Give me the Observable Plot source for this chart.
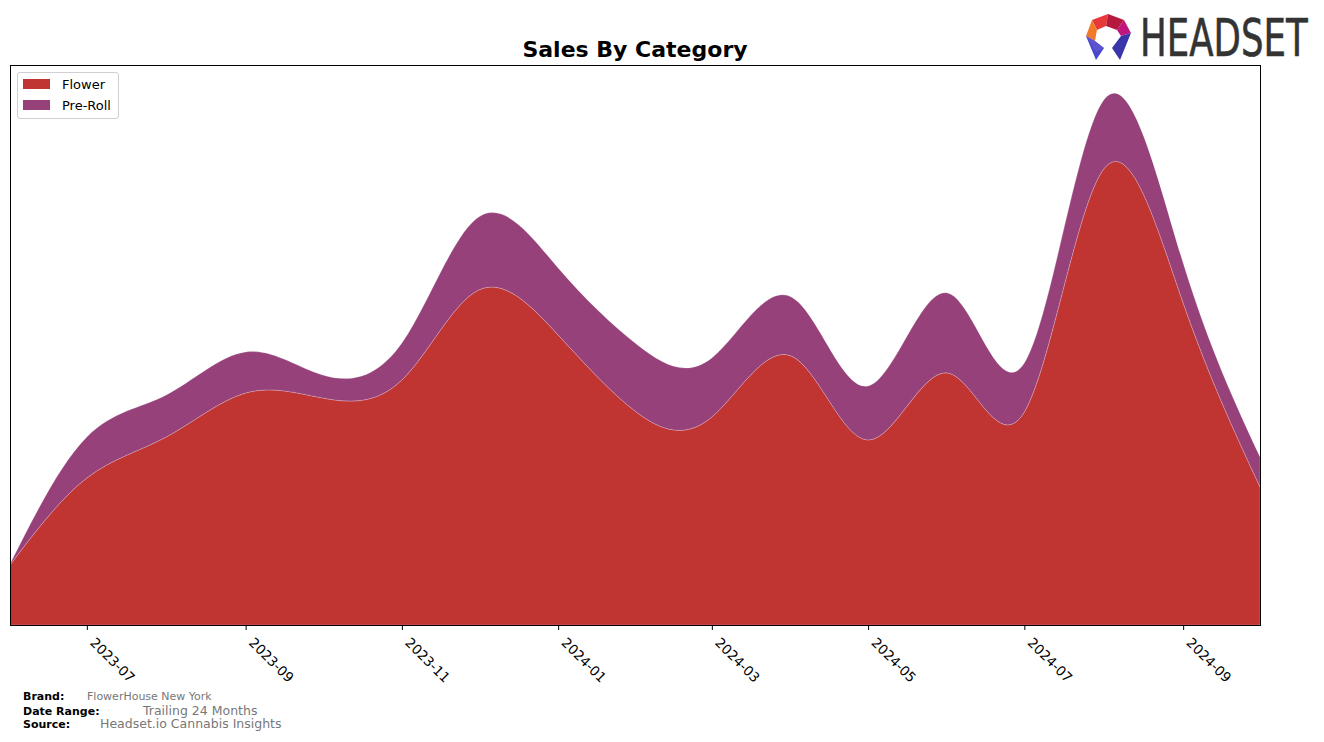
<!DOCTYPE html>
<html>
<head>
<meta charset="utf-8">
<script src="https://cdn.jsdelivr.net/npm/d3@7"></script>
<script src="https://cdn.jsdelivr.net/npm/@observablehq/plot@0.6"></script>
<style>
  html, body { margin: 0; padding: 0; background: #fff; }
  body { width: 1324px; height: 742px; position: relative; overflow: hidden; font-family: "DejaVu Sans", sans-serif; }
  #chart { position: absolute; left: 0; top: 0; }
  .title { position: absolute; left: 0; width: 1270px; top: 39px; line-height: 22px; text-align: center; font-weight: bold; font-size: 22px; color: #000; }
  .legend { position: absolute; left: 17px; top: 72px; width: 100px; height: 45px; border: 1px solid #d0d0d0; border-radius: 3px; background: #fff; font-size: 13px; }
  .legend .row { position: absolute; left: 5px; height: 16px; display: flex; align-items: center; }
  .legend .sw { width: 27px; height: 10px; margin-right: 12px; }
  .foot { position: absolute; font-size: 11px; white-space: nowrap; }
  .foot b { position: absolute; left: 0; color: #000; }
  .foot span { position: absolute; color: #777; }
</style>
</head>
<body>
<div id="chart"></div>
<div class="title">Sales By Category</div>
<div class="legend">
  <div class="row" style="top:3px"><div class="sw" style="background:#c03432"></div><span>Flower</span></div>
  <div class="row" style="top:24px"><div class="sw" style="background:#96417a"></div><span>Pre-Roll</span></div>
</div>
<div class="foot" style="left:23px; top:690px;"><b>Brand:</b><span style="left:64px; top:0px; font-size:11px;">FlowerHouse New York</span></div>
<div class="foot" style="left:23px; top:705px;"><b>Date Range:</b><span style="left:120px; top:-2px; font-size:12.5px;">Trailing 24 Months</span></div>
<div class="foot" style="left:23px; top:718px;"><b>Source:</b><span style="left:77px; top:-2px; font-size:12.5px;">Headset.io Cannabis Insights</span></div>
<svg id="logo" width="240" height="60" style="position:absolute; left:1080px; top:8px;">
  <g>
    <polygon points="12,12 28,6 26,18 17,22" fill="#e8383a"/>
    <polygon points="28,6 44,12 37,22 26,18" fill="#b5193d"/>
    <polygon points="44,12 51,25 41,28 37,22" fill="#c0177f"/>
    <polygon points="12,12 17,22 15,33 6,28" fill="#f07a2a"/>
    <polygon points="6,28 15,33 24,40 16,52" fill="#4a47c8"/>
    <polygon points="51,25 41,28 32,40 40,52" fill="#3a35a8"/>
    <polygon points="6,28 16,44 24,40 15,33" fill="#6a5ad8" opacity="0.6"/>
  </g>
  <g transform="translate(60,48) scale(0.76,1)">
    <text x="0" y="0" font-family="DejaVu Sans Condensed, DejaVu Sans" font-size="52" fill="#333" stroke="#333" stroke-width="0.6">HEADSET</text>
  </g>
</svg>
<script>
// ---- data (arbitrary sales units) ----
const months = ["2023-06-01","2023-07-01","2023-08-01","2023-09-01","2023-10-01","2023-11-01","2023-12-01",
                "2024-01-01","2024-02-01","2024-03-01","2024-04-01","2024-05-01","2024-06-01","2024-07-01",
                "2024-08-01","2024-09-01","2024-10-01"];
const categories = ["Flower", "Pre-Roll"];
const flower  = [60, 147, 188, 232, 227, 245, 335, 290, 212, 208, 269, 185, 252, 213, 456, 322, 138];
const preRoll = [ 1,  41,  42,  41,  23,  37,  73,  67,  68,  59,  59,  54,  80,  49,  69,  40,  30];
const colors = ["#c03432", "#96417a"];
const tickDates = ["2023-07-01","2023-09-01","2023-11-01","2024-01-01","2024-03-01","2024-05-01","2024-07-01","2024-09-01"];

const rows = [];
months.forEach((m, i) => {
  rows.push({date: new Date(m), category: "Flower", value: flower[i]});
  rows.push({date: new Date(m), category: "Pre-Roll", value: preRoll[i]});
});

const chart = Plot.plot({
  width: 1324,
  height: 742,
  marginTop: 65,
  marginBottom: 117,
  marginLeft: 10,
  marginRight: 64,
  style: {fontFamily: "DejaVu Sans, sans-serif", fontSize: "13px", color: "#000", background: "transparent"},
  x: {type: "utc", domain: [new Date(months[0]), new Date(months[months.length - 1])]},
  y: {domain: [0, 560], axis: null},
  color: {domain: categories, range: colors},
  marks: [
    Plot.areaY(rows, {x: "date", y: "value", fill: "category", order: categories, curve: "natural",
                      stroke: "#ffffff", strokeOpacity: 0.35, strokeWidth: 0.6}),
    Plot.frame({stroke: "#000", strokeWidth: 1}),
    Plot.axisX({ticks: tickDates.map(d => new Date(d)), tickFormat: d3.utcFormat("%Y-%m"),
                tickRotate: 45, tickSize: 5, tickPadding: 4, label: null, fontSize: 13.5}),
  ]
});
// nudge the rotated tick labels so their upper-left corner sits just right of the tick, like the reference
d3.select(chart).selectAll("g[aria-label='x-axis tick label']").each(function() {
  const g = d3.select(this);
  const t = g.attr("transform") || "";
  g.attr("transform", "translate(5,6) " + t);
});
document.getElementById("chart").appendChild(chart);
</script>
</body>
</html>
